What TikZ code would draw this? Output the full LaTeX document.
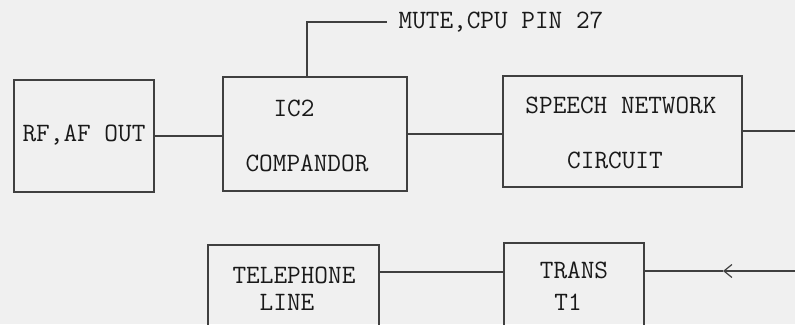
\documentclass[tikz,border=0pt]{standalone}
\usetikzlibrary{arrows.meta}
\begin{document}
\begin{tikzpicture}[x=1pt, y=-1pt, line width=1.2pt,
  every node/.style={font=\fontsize{26.5}{30}\selectfont\ttfamily, text=black!90},
  blk/.style={draw=black!75, rectangle, inner sep=0pt},
  wire/.style={draw=black!75}]
% page
\useasboundingbox[fill=black!6] (0,0) rectangle (795,324);
\clip (0,0) rectangle (795,324);
% blocks
\node[blk, minimum width=140pt, minimum height=112pt] (rf) at (84,136) {};
\node[blk, minimum width=184pt, minimum height=114pt] (ic2) at (315,134) {};
\node[blk, minimum width=239pt, minimum height=111pt] (speech) at (622.5,131.5) {};
\node[blk, minimum width=171pt, minimum height=100pt] (tel) at (293.5,295) {};
\node[blk, minimum width=140pt, minimum height=102pt] (trans) at (574,294) {};
% block texts
\node (rftxt) at (84,135) {RF,AF OUT};
\node (ic2a) at (294,108) {IC2};
\node (ic2b) at (307,163) {COMPANDOR};
\node (spa) at (621,105) {SPEECH NETWORK};
\node (spb) at (615,160) {CIRCUIT};
\node (tela) at (294,275) {TELEPHONE};
\node (telb) at (287,302) {LINE};
\node (tra) at (574,270) {TRANS};
\node (trb) at (568,302) {T1};
\node[anchor=west, inner sep=0pt] (mutetxt) at (398,22) {MUTE,CPU PIN 27};
% edge points
\coordinate (outR) at (795,131);
\coordinate (inB) at (795,271);
\coordinate (tipB) at (723,271);
\coordinate (lineB) at (0,272);
% connections
\draw[wire] (rf.east) -- (rf.east -| ic2.west);
\draw[wire] (ic2.east) -- (ic2.east -| speech.west);
\draw[wire] (speech.east |- outR) -- (outR);
\draw[wire] ([xshift=-8pt]ic2.north) |- ([xshift=-11pt]mutetxt.west);
\draw[wire] (tel.east |- lineB) -- (trans.west |- lineB);
\draw[wire, -{Straight Barb[length=8pt, width=13pt]}] (inB) -- (tipB);
\draw[wire] (tipB) -- (trans.east |- tipB);
\end{tikzpicture}
\end{document}
